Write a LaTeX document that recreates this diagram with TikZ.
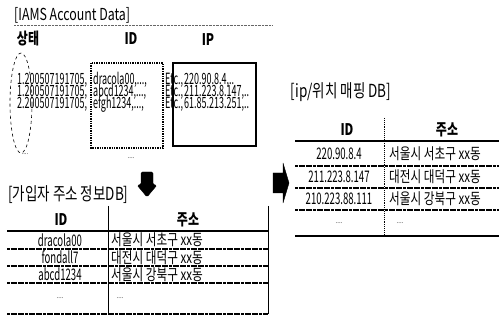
\documentclass[tikz,border=0pt]{standalone}
\usepackage{fontspec}
\setmainfont{Noto Sans CJK KR}[FakeStretch=0.75]
\newfontfamily\condfont{Noto Sans CJK KR}[FakeStretch=0.6]
\newfontfamily\recfont{Noto Sans CJK KR}[FakeStretch=0.58]
\tikzset{
  heading/.style={inner sep=0pt,font=\fontsize{16.5}{16.5}\selectfont},
  krheading/.style={inner sep=0pt,font=\fontsize{18}{18}\selectfont},
  colhead/.style={inner sep=0pt,font=\fontsize{16}{16}\selectfont\bfseries},
  rec/.style={inner sep=0pt,anchor=west,font=\recfont\fontsize{15.5}{15.5}\selectfont},
  idcell/.style={inner sep=0pt,font=\condfont\fontsize{16}{16}\selectfont},
  addrcell/.style={inner sep=0pt,anchor=west,font=\fontsize{15.5}{15.5}\selectfont},
  faint/.style={inner sep=0pt,font=\fontsize{8}{8}\selectfont,text=black!60},
  fieldbox/.style={draw,line width=1.4pt},
  headrule/.style={line width=1.8pt},
  rowrule/.style={line width=1.1pt,dash pattern=on 3pt off 0.6pt},
  colrule/.style={line width=0.9pt},
  blockarrow/.style={fill=black,draw=black,line join=round}
}
\begin{document}
\begin{tikzpicture}[x=1pt,y=-1pt]
  \useasboundingbox (0,0) rectangle (499,323);
  \node[heading,anchor=west] (acct) at (14,15) {[IAMS Account Data]};
  \draw[densely dotted,black!60] (14,25) -- (272,25);
  \node[colhead] (state) at (28,39) {상태};
  \node[colhead] (acctid) at (131,39) {ID};
  \node[colhead] (acctip) at (208,40) {IP};
  \draw[dashed,line width=0.6pt] (21,103) ellipse [x radius=11,y radius=50];
  \draw[fieldbox,densely dotted] (91,63) rectangle (163,148);
  \draw[fieldbox] (173,63) rectangle (256,146);
  \node[rec] (r1a) at (17,80) {1.200507191705,};
  \node[rec] (r1b) at (93,80) {dracola00,...,};
  \node[rec] (r1c) at (165,80) {Etc.,};
  \node[rec] (r1d) at (184,80) {220.90.8.4,..};
  \node[rec] (r2a) at (17,92) {1.200507191705,};
  \node[rec] (r2b) at (93,92) {abcd1234,...,};
  \node[rec] (r2c) at (165,92) {Etc.,};
  \node[rec] (r2d) at (184,92) {211.223.8.147,..};
  \node[rec] (r3a) at (17,104) {2.200507191705,};
  \node[rec] (r3b) at (93,104) {efgh1234,...,};
  \node[rec] (r3c) at (165,104) {Etc.,};
  \node[rec] (r3d) at (184,104) {61.85.213.251,..};
  \node[faint] (r4a) at (25,154) {....};
  \node[faint] (r4b) at (131,158) {....};

  \node[krheading,anchor=west] (subdb) at (8,195) {[가입자 주소 정보DB]};
  \draw[blockarrow,rounded corners=1.5pt] (141,172) -- (153,172) -- (153,185) -- (157,185)
    -- (147,197) -- (137,185) -- (141,185) -- cycle;
  \node[colhead] (subid) at (61,220) {ID};
  \node[colhead] (subaddr) at (188,220) {주소};
  \draw[headrule] (7,231) -- (268,231);
  \draw[rowrule] (7,249) -- (268,249);
  \draw[rowrule] (7,266) -- (268,266);
  \draw[rowrule] (7,283) -- (268,283);
  \draw[rowrule] (7,314) -- (268,314);
  \draw[colrule] (108,206) -- (108,314);
  \draw[colrule] (268,206) -- (268,314);
  \node[idcell] (s1id) at (60,240) {dracola00};
  \node[addrcell] (s1ad) at (111,240) {서울시 서초구 xx동};
  \node[idcell] (s2id) at (60,257.5) {fondall7};
  \node[addrcell] (s2ad) at (111,257.5) {대전시 대덕구 xx동};
  \node[idcell] (s3id) at (60,274.5) {abcd1234};
  \node[addrcell] (s3ad) at (111,274.5) {서울시 강북구 xx동};
  \node[faint] (s4id) at (60,298) {....};
  \node[faint] (s4ad) at (120,298) {....};

  \draw[blockarrow] (273,173) -- (283,173) -- (283,163) -- (289,183) -- (283,203)
    -- (283,193) -- (273,193) -- cycle;

  \node[krheading] (mapdb) at (341,92) {[ip/위치 매핑 DB]};
  \node[colhead] (mapid) at (347,130) {ID};
  \node[colhead] (mapaddr) at (447,130) {주소};
  \draw[headrule] (295,141) -- (499,141);
  \draw[rowrule] (295,166) -- (499,166);
  \draw[rowrule] (295,188) -- (499,188);
  \draw[rowrule] (295,210) -- (499,210);
  \draw[headrule] (295,236) -- (499,236);
  \draw[colrule,densely dotted] (384,118) -- (384,236);
  \node[idcell] (m1id) at (339,153.5) {220.90.8.4};
  \node[addrcell] (m1ad) at (389,153.5) {서울시 서초구 xx동};
  \node[idcell] (m2id) at (339,176.5) {211.223.8.147};
  \node[addrcell] (m2ad) at (389,176.5) {대전시 대덕구 xx동};
  \node[idcell] (m3id) at (339,198.5) {210.223.88.111};
  \node[addrcell] (m3ad) at (389,198.5) {서울시 강북구 xx동};
  \node[faint] (m4id) at (339,223) {....};
  \node[faint] (m4ad) at (400,223) {....};
\end{tikzpicture}
\end{document}
